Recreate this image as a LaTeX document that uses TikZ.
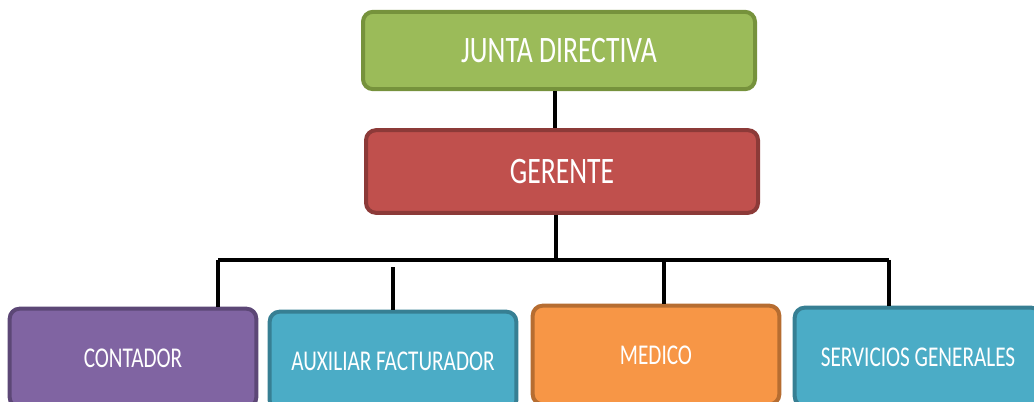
\documentclass[tikz,border=0pt]{standalone}
\usepackage{fontspec}
\newfontfamily\orgfont[FakeStretch=0.74]{Carlito}
\definecolor{juntafill}{HTML}{9BBB59}
\definecolor{juntaline}{HTML}{76923C}
\definecolor{gerfill}{HTML}{C0504D}
\definecolor{gerline}{HTML}{8C3A38}
\definecolor{contfill}{HTML}{8064A2}
\definecolor{contline}{HTML}{5C4776}
\definecolor{auxfill}{HTML}{4BACC6}
\definecolor{auxline}{HTML}{377F93}
\definecolor{medfill}{HTML}{F79646}
\definecolor{medline}{HTML}{B66D31}

\begin{document}
\begin{tikzpicture}[x=0.75pt,y=-0.75pt,
    orgbox/.style={draw, line width=3pt, rounded corners=7.5pt, text=white, inner sep=0pt},
    topbox/.style={orgbox, minimum width=294pt, font=\orgfont\fontsize{28}{32}\selectfont},
    lowbox/.style={orgbox, minimum width=185pt, minimum height=74pt, font=\orgfont\fontsize{21.5}{25}\selectfont},
    link/.style={line width=3pt}]
        \clip (0,0) rectangle (1034,402);
        % upper levels
        \node (junta) [topbox, fill=juntafill, draw=juntaline, minimum height=58pt] at (559,50.5) {JUNTA DIRECTIVA};
        \node (gerente) [topbox, fill=gerfill, draw=gerline, minimum height=62pt] at (562,171.5) {GERENTE};
        % lower level
        \node (contador) [lowbox, fill=contfill, draw=contline] at (133,358) {CONTADOR};
        \node (auxiliar) [lowbox, fill=auxfill, draw=auxline] at (393,361) {AUXILIAR FACTURADOR};
        \node (medico) [lowbox, fill=medfill, draw=medline] at (656,355) {MEDICO};
        \node (servicios) [lowbox, fill=auxfill, draw=auxline] at (918,357) {SERVICIOS GENERALES};
        % connectors
        \coordinate (busL) at (218,260);
        \coordinate (busM) at (664,260);
        \coordinate (busR) at (889,260);
        \draw [link] (junta.south -| 555,0) -- (gerente.north -| 555,0);
        \draw [link] (gerente.south -| 556,0) -- (busL -| 556,0);
        \draw [link] (busL) -- (busR);
        \draw [link] (busL) -- (busL |- contador.north);
        \draw [link] (auxiliar.north) -- ++(0,-43);
        \draw [link] (busM) -- (busM |- medico.north);
        \draw [link] (busR) -- (busR |- servicios.north);
    \end{tikzpicture}
\end{document}
